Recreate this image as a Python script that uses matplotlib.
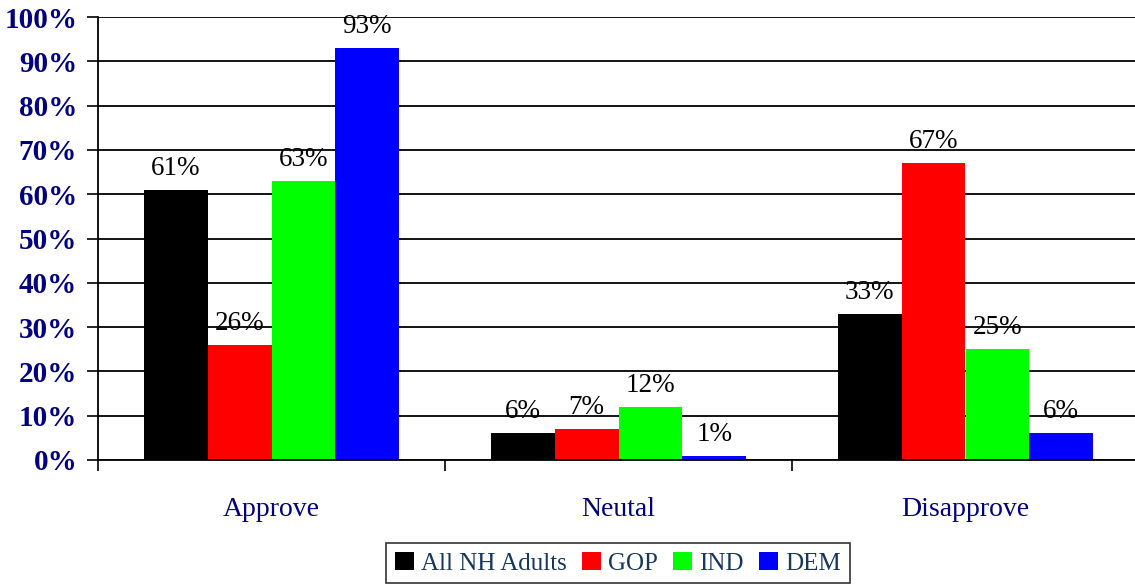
import matplotlib
matplotlib.use("Agg")
import matplotlib.pyplot as plt
import numpy as np
from matplotlib.ticker import FixedLocator, FuncFormatter

categories = ["Approve", "Neutal", "Disapprove"]
series_names = ["All NH Adults", "GOP", "IND", "DEM"]
all_nh = [61, 6, 33]
gop = [26, 7, 67]
ind = [63, 12, 25]
dem = [93, 1, 6]
series_values = [all_nh, gop, ind, dem]
colors = ["#000000", "#FF0000", "#00FF00", "#0000FF"]
y_ticks = [0, 10, 20, 30, 40, 50, 60, 70, 80, 90, 100]

plt.rcParams["font.family"] = ["Liberation Serif", "DejaVu Serif"]

fig = plt.figure(figsize=(11.35, 5.87), dpi=100)
ax = fig.add_axes([98 / 1135, 127 / 587, 1041 / 1135, 443 / 587])

x = np.arange(len(categories))
w = 0.184
offsets = [-1.5, -0.5, 0.5, 1.5]
handles = []
for vals, col, off, name in zip(series_values, colors, offsets, series_names):
    b = ax.bar(x + off * w, vals, width=w, color=col, label=name, zorder=3)
    handles.append(b)
    for xi, v in zip(x, vals):
        ax.text(xi + off * w, v + 3.4, f"{v}%", ha="center", va="baseline",
                fontsize=19.5, color="black", zorder=4)

ax.set_xlim(-0.5, 2.5)
ax.set_ylim(0, 100)
ax.yaxis.set_major_locator(FixedLocator(y_ticks))
ax.yaxis.set_major_formatter(FuncFormatter(lambda v, p: f"{int(v)}%"))
ax.tick_params(axis="y", labelsize=21, labelcolor="#000080", length=8, width=1.2, pad=7)
for lbl in ax.get_yticklabels():
    lbl.set_fontweight("bold")
ax.grid(axis="y", color="black", linewidth=1.3, zorder=0)

ax.xaxis.set_major_locator(FixedLocator([-0.5, 0.5, 1.5, 2.5]))
ax.xaxis.set_major_formatter(FuncFormatter(lambda v, p: ""))
ax.xaxis.set_minor_locator(FixedLocator(list(x)))
ax.set_xticklabels(categories, minor=True)
ax.tick_params(axis="x", which="major", length=8, width=1.2)
ax.tick_params(axis="x", which="minor", length=0, labelsize=20, labelcolor="#000080", pad=27)

for s in ["top", "right"]:
    ax.spines[s].set_visible(False)
for s in ["left", "bottom"]:
    ax.spines[s].set_linewidth(1.3)
    ax.spines[s].set_zorder(5)

leg = fig.legend(handles=handles, labels=series_names, loc="upper center",
                 bbox_to_anchor=(618 / 1135, 44 / 587), ncol=4, frameon=True,
                 fancybox=False, edgecolor="black", fontsize=18,
                 handlelength=0.75, handleheight=0.75, handletextpad=0.3,
                 columnspacing=0.6, borderpad=0.35, borderaxespad=0)
leg.get_frame().set_linewidth(1.2)
for t in leg.get_texts():
    t.set_color("#17375E")

fig.savefig("out.png", dpi=100)
